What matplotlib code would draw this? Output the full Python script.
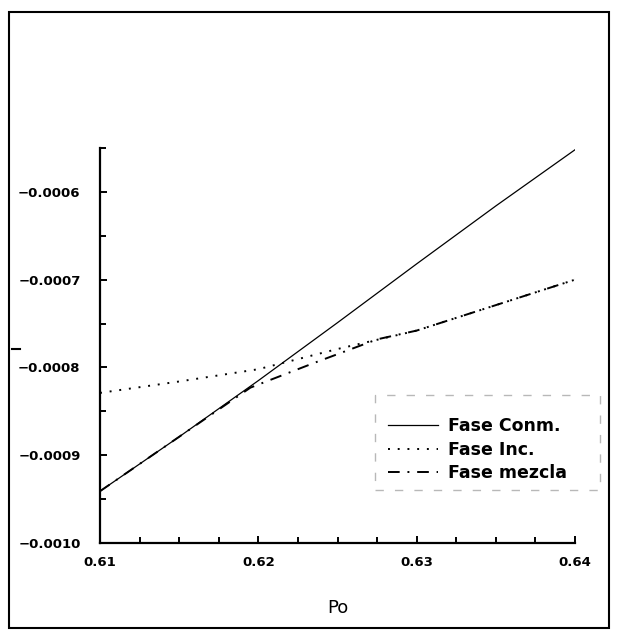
import numpy as np
import matplotlib
matplotlib.use('Agg')
import matplotlib.pyplot as plt
from matplotlib.patches import Rectangle
from matplotlib.lines import Line2D
from matplotlib.ticker import MultipleLocator, FuncFormatter

# values
po_conm = [0.610, 0.615, 0.620, 0.625, 0.630, 0.635, 0.640]
fase_conm = [-0.000941, -0.000879, -0.000815, -0.000749, -0.000682, -0.000616, -0.000552]

po_inc = [0.610, 0.615, 0.620, 0.625, 0.630, 0.635, 0.640]
fase_inc = [-0.000829, -0.000816, -0.000802, -0.000779, -0.000758, -0.000729, -0.000700]

po_mez = [0.610, 0.615, 0.6195, 0.6235, 0.6275, 0.630, 0.635, 0.640]
fase_mez = [-0.000941, -0.000879, -0.000823, -0.000795, -0.000768, -0.000758, -0.000729, -0.000700]

W, H = 621, 630
fig = plt.figure(figsize=(W / 100, H / 100), dpi=100)
ax = fig.add_axes([100 / W, 87 / H, 475 / W, 395 / H])

ax.plot(po_conm, fase_conm, color='black', lw=0.9, ls='-', label='Fase Conm.')
ax.plot(po_inc, fase_inc, color='black', lw=1.4, ls=(0, (1, 4)), label='Fase Inc.')
ax.plot(po_mez, fase_mez, color='black', lw=1.4, ls=(0, (6, 4, 1, 4)), label='Fase mezcla')

ax.set_xlim(0.61, 0.64)
ax.set_ylim(-0.0010, -0.00055)
ax.xaxis.set_major_locator(MultipleLocator(0.01))
ax.xaxis.set_minor_locator(MultipleLocator(0.0025))
ax.yaxis.set_major_locator(MultipleLocator(0.0001))
ax.yaxis.set_minor_locator(MultipleLocator(0.00005))
ax.xaxis.set_major_formatter(FuncFormatter(lambda v, p: '%.2f' % v))
ax.yaxis.set_major_formatter(FuncFormatter(lambda v, p: ('%.4f' % v).replace('-', '\u2212')))

for s in ['top', 'right']:
    ax.spines[s].set_visible(False)
for s in ['left', 'bottom']:
    ax.spines[s].set_linewidth(1.6)

ax.tick_params(which='both', direction='in', width=1.4)
ax.tick_params(which='major', length=5)
ax.tick_params(which='minor', length=4)
ax.tick_params(axis='y', labelsize=9.5, pad=14)
ax.tick_params(axis='x', labelsize=9.5, pad=9)
for lab in ax.get_xticklabels() + ax.get_yticklabels():
    lab.set_fontweight('bold')

ax.set_xlabel('Po', fontsize=13, labelpad=22)

leg = ax.legend(loc='upper left', bbox_to_anchor=(0.606, 0.318), fontsize=12.5,
                handlelength=2.9, handletextpad=0.55, labelspacing=0.3,
                borderpad=0, borderaxespad=0, frameon=False)
for t in leg.get_texts():
    t.set_fontweight('bold')

# faint box round the legend, as in the scan
ax.add_patch(Rectangle((0.579, 0.134), 0.474, 0.241, transform=ax.transAxes,
                       fill=False, edgecolor='#b8b8b8', lw=1.0, ls=(0, (6, 8)),
                       clip_on=False))

# outer frame of the scanned page
fig.patches.append(Rectangle((9 / W, 2 / H), 600 / W, 616 / H, transform=fig.transFigure,
                             fill=False, edgecolor='black', lw=1.5))
fig.lines.append(Line2D([12 / W, 20 / W], [281 / H, 281 / H], transform=fig.transFigure,
                        color='black', lw=1.5))

fig.savefig('out.png', dpi=100)
